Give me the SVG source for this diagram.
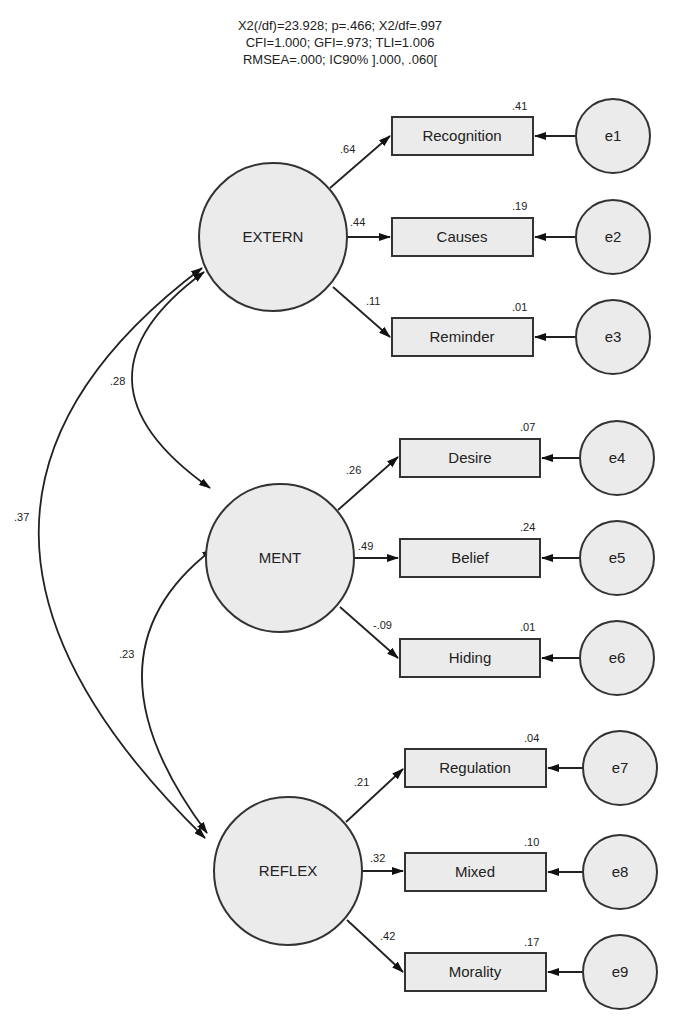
<svg xmlns="http://www.w3.org/2000/svg" width="682" height="1018" viewBox="0 0 682 1018">
<style>
text{font-family:"Liberation Sans",Arial,sans-serif;fill:#222}
.c{fill:#ebebeb;stroke:#333;stroke-width:2}
.b{fill:#ebebeb;stroke:#333;stroke-width:2}
.l{fill:none;stroke:#222;stroke-width:1.8}
.n{font-size:15px;text-anchor:middle}
.s{font-size:11px}
.h{font-size:13px;text-anchor:middle}
</style>
<defs><marker id="a" markerWidth="12" markerHeight="8" refX="11" refY="4" orient="auto-start-reverse" markerUnits="userSpaceOnUse"><path d="M0,0L12,4L0,8z" fill="#111"/></marker></defs>
<rect width="682" height="1018" fill="#fff"/>
<text class="h" x="340" y="30">X2(/df)=23.928; p=.466; X2/df=.997</text>
<text class="h" x="340" y="47">CFI=1.000; GFI=.973; TLI=1.006</text>
<text class="h" x="340" y="64">RMSEA=.000; IC90% ].000, .060[</text>
<g id="connectors">
<line class="l" x1="330" y1="188" x2="390" y2="136" marker-end="url(#a)"/>
<line class="l" x1="347" y1="237" x2="390" y2="237" marker-end="url(#a)"/>
<line class="l" x1="333" y1="287" x2="390" y2="337" marker-end="url(#a)"/>
<line class="l" x1="576" y1="136" x2="535" y2="136" marker-end="url(#a)"/>
<line class="l" x1="576" y1="237" x2="535" y2="237" marker-end="url(#a)"/>
<line class="l" x1="576" y1="337" x2="535" y2="337" marker-end="url(#a)"/>
<line class="l" x1="338" y1="510" x2="398" y2="457" marker-end="url(#a)"/>
<line class="l" x1="354" y1="558" x2="398" y2="558" marker-end="url(#a)"/>
<line class="l" x1="340" y1="607" x2="398" y2="658" marker-end="url(#a)"/>
<line class="l" x1="580" y1="458" x2="542" y2="458" marker-end="url(#a)"/>
<line class="l" x1="580" y1="558" x2="542" y2="558" marker-end="url(#a)"/>
<line class="l" x1="580" y1="658" x2="542" y2="658" marker-end="url(#a)"/>
<line class="l" x1="346" y1="822" x2="403" y2="769" marker-end="url(#a)"/>
<line class="l" x1="362" y1="871" x2="403" y2="871" marker-end="url(#a)"/>
<line class="l" x1="347" y1="920" x2="403" y2="972" marker-end="url(#a)"/>
<line class="l" x1="583" y1="768" x2="548" y2="768" marker-end="url(#a)"/>
<line class="l" x1="583" y1="872" x2="548" y2="872" marker-end="url(#a)"/>
<line class="l" x1="583" y1="972" x2="548" y2="972" marker-end="url(#a)"/>
<path class="l" d="M204,272 Q57,380 210,488" marker-start="url(#a)" marker-end="url(#a)"/>
<path class="l" d="M213,549 Q74,655 207,833" marker-start="url(#a)" marker-end="url(#a)"/>
<path class="l" d="M202,268 Q-126,515 205,838" marker-start="url(#a)" marker-end="url(#a)"/>
</g>
<g id="EXTERN"><circle class="c" cx="273" cy="237" r="74"/><text class="n" x="273" y="242">EXTERN</text></g>
<g id="MENT"><circle class="c" cx="280" cy="558" r="74"/><text class="n" x="280" y="563">MENT</text></g>
<g id="REFLEX"><circle class="c" cx="288" cy="871" r="74"/><text class="n" x="288" y="876">REFLEX</text></g>
<g id="Recognition"><rect class="b" x="392" y="117" width="141" height="38"/><text class="n" x="462" y="141">Recognition</text></g>
<g id="Causes"><rect class="b" x="392" y="218" width="141" height="38"/><text class="n" x="462" y="242">Causes</text></g>
<g id="Reminder"><rect class="b" x="392" y="318" width="141" height="38"/><text class="n" x="462" y="342">Reminder</text></g>
<g id="Desire"><rect class="b" x="400" y="439" width="140" height="38"/><text class="n" x="470" y="463">Desire</text></g>
<g id="Belief"><rect class="b" x="400" y="539" width="140" height="38"/><text class="n" x="470" y="563">Belief</text></g>
<g id="Hiding"><rect class="b" x="400" y="639" width="140" height="38"/><text class="n" x="470" y="663">Hiding</text></g>
<g id="Regulation"><rect class="b" x="405" y="749" width="141" height="38"/><text class="n" x="475" y="773">Regulation</text></g>
<g id="Mixed"><rect class="b" x="405" y="853" width="141" height="38"/><text class="n" x="475" y="877">Mixed</text></g>
<g id="Morality"><rect class="b" x="405" y="953" width="141" height="38"/><text class="n" x="475" y="977">Morality</text></g>
<g id="e1"><circle class="c" cx="613" cy="136" r="37"/><text class="n" x="613" y="141">e1</text></g>
<g id="e2"><circle class="c" cx="613" cy="237" r="37"/><text class="n" x="613" y="242">e2</text></g>
<g id="e3"><circle class="c" cx="613" cy="337" r="37"/><text class="n" x="613" y="342">e3</text></g>
<g id="e4"><circle class="c" cx="617" cy="458" r="37"/><text class="n" x="617" y="463">e4</text></g>
<g id="e5"><circle class="c" cx="617" cy="558" r="37"/><text class="n" x="617" y="563">e5</text></g>
<g id="e6"><circle class="c" cx="617" cy="658" r="37"/><text class="n" x="617" y="663">e6</text></g>
<g id="e7"><circle class="c" cx="620" cy="768" r="37"/><text class="n" x="620" y="773">e7</text></g>
<g id="e8"><circle class="c" cx="620" cy="872" r="37"/><text class="n" x="620" y="877">e8</text></g>
<g id="e9"><circle class="c" cx="620" cy="972" r="37"/><text class="n" x="620" y="977">e9</text></g>
<g id="labels">
<text class="s" x="340" y="153">.64</text>
<text class="s" x="350" y="226">.44</text>
<text class="s" x="366" y="305">.11</text>
<text class="s" x="512" y="110">.41</text>
<text class="s" x="512" y="210">.19</text>
<text class="s" x="512" y="311">.01</text>
<text class="s" x="346" y="474">.26</text>
<text class="s" x="358" y="550">.49</text>
<text class="s" x="373" y="629">-.09</text>
<text class="s" x="520" y="431">.07</text>
<text class="s" x="520" y="531">.24</text>
<text class="s" x="520" y="631">.01</text>
<text class="s" x="354" y="786">.21</text>
<text class="s" x="370" y="862">.32</text>
<text class="s" x="380" y="940">.42</text>
<text class="s" x="524" y="742">.04</text>
<text class="s" x="524" y="846">.10</text>
<text class="s" x="524" y="946">.17</text>
<text class="s" x="110" y="385">.28</text>
<text class="s" x="14" y="521">.37</text>
<text class="s" x="119" y="658">.23</text>
</g>
</svg>
